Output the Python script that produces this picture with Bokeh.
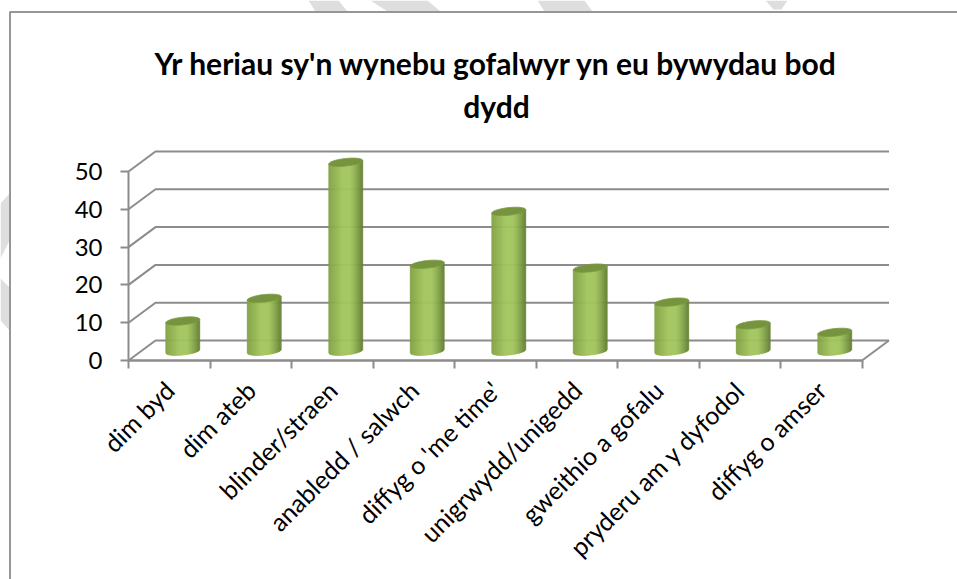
import math
from bokeh.plotting import figure
from bokeh.embed import file_html
from bokeh.resources import INLINE
from bokeh.core.properties import value
from bokeh.models import LinearAxis, FixedTicker, Range1d, ColumnDataSource

categories = ["dim byd", "dim ateb", "blinder/straen", "anabledd / salwch", "diffyg o 'me time'",
              "unigrwydd/unigedd", "gweithio a gofalu", "pryderu am y dyfodol", "diffyg o amser"]
values = [8, 14, 50, 23, 37, 22, 13, 7, 5]
y_ticks = [0, 10, 20, 30, 40, 50]
title_lines = ["Yr heriau sy'n wynebu gofalwyr yn eu bywydau bod", "dydd"]

# Layout: one frame fills the whole figure; data units map to page pixels like this
W, H = 957, 579
PAGE = 0
PX_X, PX_Y = 81.5, 3.78      # pixels per category, pixels per value unit
X0, Y0 = 128.0, 360.0        # page position of the origin
DX, DY = 27 / PX_X, 20 / PX_Y  # depth of the 3D box
R_W = 17 / PX_X              # cylinder half width
R_H = 3.8 / PX_Y             # cylinder ellipse half height
TILT = (3.5 / PX_Y) / (34 / PX_X)
BASE = DY / 2 - 0.2
GREY = "#8c8c8c"
TEXT = "#000000"
FONT = "Lato"

def dx(px):
    return (px - X0) / PX_X

def dy(py):
    return (Y0 - py) / PX_Y

p = figure(width=W, height=H, output_backend="svg", toolbar_location=None,
           x_range=Range1d(dx(PAGE), dx(PAGE + W)), y_range=Range1d(dy(PAGE + H), dy(PAGE)),
           x_axis_type=None, y_axis_type=None, min_border=0, outline_line_color=None)
p.xgrid.visible = False
p.ygrid.visible = False

# pale watermark fragments outside the chart border
fragments = [
    [(308, 0), (338, 0), (347, 11), (315, 11)],
    [(370, 0), (427, 0), (440, 11), (387, 11)],
    [(537, 0), (584, 0), (592, 11), (544, 11)],
    [(765, 0), (787, 0), (781, 9), (773, 9)],
    [(0, 203), (9, 193), (9, 240), (0, 258)],
    [(0, 278), (9, 287), (9, 330), (0, 320)],
]
p.patches([[dx(a) for a, _ in f] for f in fragments], [[dy(b) for _, b in f] for f in fragments],
          fill_color="#dedede", line_color=None)

# chart border
p.line([dx(PAGE + W), dx(9.5), dx(9.5)], [dy(11.5), dy(11.5), dy(PAGE + H)], line_color="#969696", line_width=2)

# walls
n = len(categories)
xs, ys = [], []
for t in y_ticks:
    xs.append([0, DX, n + DX])
    ys.append([t, t + DY, t + DY])
xs.append([0, n, n + DX])
ys.append([0, 0, DY])
p.multi_line(xs, ys, line_color=GREY, line_width=2)

# axes
ya = LinearAxis(fixed_location=0, ticker=FixedTicker(ticks=y_ticks), bounds=(0, max(y_ticks)))
ya.major_tick_out = 8
ya.major_tick_in = 0
ya.minor_tick_out = 0
ya.minor_tick_in = 0
ya.major_tick_line_color = GREY
ya.major_tick_line_width = 2
ya.axis_line_color = GREY
ya.axis_line_width = 2
ya.major_label_standoff = 18
ya.major_label_text_font = FONT
ya.major_label_text_font_size = "24px"
ya.major_label_text_color = TEXT
p.add_layout(ya, "left")

xt = LinearAxis(fixed_location=0, ticker=FixedTicker(ticks=list(range(n + 1))), bounds=(0, n))
xt.major_label_text_font_size = "0px"
xt.major_label_text_color = None
xt.major_tick_out = 8
xt.major_tick_in = 0
xt.minor_tick_out = 0
xt.minor_tick_in = 0
xt.major_tick_line_color = GREY
xt.major_tick_line_width = 2
xt.axis_line_color = GREY
xt.axis_line_width = 2
p.add_layout(xt, "below")

xl = LinearAxis(fixed_location=0, ticker=FixedTicker(ticks=[i + 0.5 for i in range(n)]), bounds=(0, n))
xl.major_label_overrides = {i + 0.5: c for i, c in enumerate(categories)}
xl.major_label_orientation = math.pi / 4
xl.major_label_standoff = 25
xl.major_label_text_font = FONT
xl.major_label_text_font_size = "25px"
xl.major_label_text_color = TEXT
xl.major_tick_out = 0
xl.major_tick_in = 0
xl.minor_tick_out = 0
xl.minor_tick_in = 0
xl.axis_line_color = None
p.add_layout(xl, "below")

# cylinders, shaded with narrow strips
def lerp(a, b, t):
    return tuple(a[i] + (b[i] - a[i]) * t for i in range(3))

def shade(t):
    left, mid, right = (130, 162, 68), (163, 198, 94), (100, 128, 52)
    if t < 0.42:
        c = lerp(left, mid, t / 0.42)
    elif t < 0.62:
        c = mid
    else:
        c = lerp(mid, right, ((t - 0.62) / 0.38) ** 1.3)
    return "#%02x%02x%02x" % tuple(round(v) for v in c)

STRIPS = 34
sx, sy, sc = [], [], []
tx, ty = [], []
for i, v in enumerate(values):
    c = i + 0.5 + DX / 2
    top = BASE + v
    for k in range(STRIPS):
        a = k / STRIPS
        b = (k + 1) / STRIPS
        u0, u1 = 2 * a - 1, 2 * b - 1
        x0, x1 = c + R_W * u0, c + R_W * u1
        t0 = TILT * (x0 - c)
        t1 = TILT * (x1 - c)
        sx.append([x0, x1, x1, x0])
        sy.append([BASE + t0 - R_H * math.sqrt(max(1 - u0 * u0, 0)),
                   BASE + t1 - R_H * math.sqrt(max(1 - u1 * u1, 0)),
                   top + t1, top + t0])
        sc.append(shade((a + b) / 2))
    angles = [2 * math.pi * q / 48 for q in range(48)]
    tx.append([c + R_W * math.cos(q) for q in angles])
    ty.append([top + TILT * R_W * math.cos(q) + R_H * math.sin(q) for q in angles])

strips = ColumnDataSource(dict(xs=sx, ys=sy, color=sc))
p.patches("xs", "ys", source=strips, fill_color="color", line_color="color", line_width=0.6)
p.patches(tx, ty, fill_color="#76943e", line_color="#7c9b44", line_width=0.8)

# title
p.text([dx(496), dx(496)], [dy(62), dy(105)], text=title_lines, text_font=value(FONT), text_font_style="bold",
       text_font_size="30px", text_align="center", text_baseline="middle", text_color=TEXT)

open("out.html", "w").write(file_html(p, INLINE))
